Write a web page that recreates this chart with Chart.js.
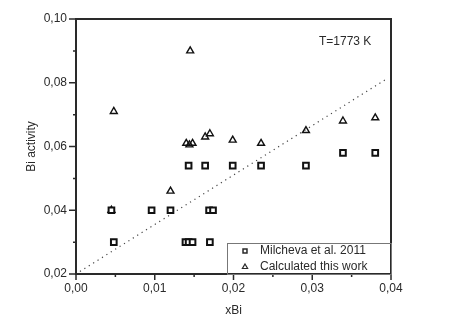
<!DOCTYPE html>
<html>
<head>
<meta charset="utf-8">
<script src="https://cdn.jsdelivr.net/npm/chart.js@4/dist/chart.umd.min.js"></script>
<style>
  body { margin: 0; background: #fff; }
  #wrap { width: 454px; height: 318px; }
</style>
</head>
<body>
<div id="wrap"><canvas id="chart" width="454" height="318"></canvas></div>
<script>
// Milcheva et al. 2011 (squares)
const milchevaX = [0.0045, 0.0048, 0.0096, 0.0120, 0.0139, 0.0143, 0.0148, 0.0143, 0.0164, 0.0170, 0.0169, 0.0174, 0.0199, 0.0235, 0.0292, 0.0339, 0.0380];
const milchevaY = [0.040, 0.030, 0.040, 0.040, 0.030, 0.030, 0.030, 0.054, 0.054, 0.030, 0.040, 0.040, 0.054, 0.054, 0.054, 0.058, 0.058];

// Calculated this work (triangles)
const calcX = [0.0045, 0.0048, 0.0120, 0.0140, 0.0144, 0.0148, 0.0145, 0.0164, 0.0170, 0.0199, 0.0235, 0.0292, 0.0339, 0.0380];
const calcY = [0.040, 0.071, 0.046, 0.061, 0.0605, 0.061, 0.090, 0.063, 0.064, 0.062, 0.061, 0.065, 0.068, 0.069];

// dotted reference line
const lineX = [0.0005, 0.0395];
const lineY = [0.0208, 0.0813];

const xTicks = [0, 0.01, 0.02, 0.03, 0.04];
const yTicks = [0.02, 0.04, 0.06, 0.08, 0.10];
const xMinorTicks = [0.005, 0.015, 0.025, 0.035];
const yMinorTicks = [0.03, 0.05, 0.07, 0.09];

const legendLabels = ['Milcheva et al. 2011', 'Calculated this work'];
const noteText = 'T=1773 K';

const FONT = 'Arial, "Liberation Sans", sans-serif';
const INK = '#2a2a2a';

function toPoints(xs, ys) {
    return xs.map((x, i) => ({ x: x, y: ys[i] }));
}

function fmt(v) {
    return v.toFixed(2).replace('.', ',');
}

// frame, ticks, note and legend box
const decorPlugin = {
    id: 'decor',
    afterDraw(chart) {
        const ctx = chart.ctx;
        const a = chart.chartArea;
        const xs = chart.scales.x;
        const ys = chart.scales.y;
        ctx.save();
        ctx.strokeStyle = INK;
        ctx.lineWidth = 2;
        ctx.strokeRect(a.left, a.top, a.right - a.left, a.bottom - a.top);

        // ticks outward
        ctx.lineWidth = 1.5;
        ctx.beginPath();
        xTicks.forEach(v => { const p = xs.getPixelForValue(v); ctx.moveTo(p, a.bottom); ctx.lineTo(p, a.bottom + 6); });
        xMinorTicks.forEach(v => { const p = xs.getPixelForValue(v); ctx.moveTo(p, a.bottom); ctx.lineTo(p, a.bottom + 3); });
        yTicks.forEach(v => { const p = ys.getPixelForValue(v); ctx.moveTo(a.left, p); ctx.lineTo(a.left - 7, p); });
        yMinorTicks.forEach(v => { const p = ys.getPixelForValue(v); ctx.moveTo(a.left, p); ctx.lineTo(a.left - 3, p); });
        ctx.stroke();

        // note
        ctx.fillStyle = INK;
        ctx.font = '12px ' + FONT;
        ctx.textBaseline = 'middle';
        ctx.textAlign = 'left';
        ctx.fillText(noteText, a.right - 72, a.top + 23);

        // legend
        const bx = 227, by = 243;
        ctx.strokeStyle = '#777';
        ctx.lineWidth = 1;
        ctx.strokeRect(bx + 0.5, by + 0.5, a.right - bx, a.bottom - by);
        chart.data.datasets.slice(0, 2).forEach((ds, i) => {
            const yy = by + 8 + i * 16;
            ctx.fillStyle = '#fff';
            ctx.strokeStyle = INK;
            ctx.lineWidth = i === 0 ? 1.5 : 1.2;
            Chart.helpers.drawPoint(ctx, {
                pointStyle: ds.pointStyle,
                radius: i === 0 ? 2.8 : 3,
                borderWidth: i === 0 ? 1.5 : 1.2
            }, bx + 18, yy);
            ctx.fillStyle = INK;
            ctx.fillText(ds.label, bx + 33, yy);
        });
        ctx.restore();
    }
};

new Chart(document.getElementById('chart'), {
    type: 'scatter',
    data: {
        datasets: [
            {
                label: legendLabels[0],
                data: toPoints(milchevaX, milchevaY),
                pointStyle: 'rect',
                pointRadius: 4,
                borderWidth: 2,
                borderColor: '#111',
                backgroundColor: '#fff'
            },
            {
                label: legendLabels[1],
                data: toPoints(calcX, calcY),
                pointStyle: 'triangle',
                pointRadius: 4,
                borderWidth: 1.4,
                borderColor: '#111',
                backgroundColor: 'rgba(255,255,255,0)'
            },
            {
                type: 'line',
                label: 'ref',
                data: toPoints(lineX, lineY),
                borderColor: '#444',
                borderWidth: 1.2,
                borderDash: [1.2, 4],
                pointRadius: 0,
                fill: false
            }
        ]
    },
    options: {
        responsive: false,
        animation: false,
        layout: { padding: { left: 20, top: 19, right: 63, bottom: 0 } },
        plugins: {
            legend: { display: false },
            tooltip: { enabled: false }
        },
        scales: {
            x: {
                type: 'linear',
                min: 0,
                max: 0.04,
                afterBuildTicks(scale) { scale.ticks = xTicks.map(v => ({ value: v })); },
                afterFit(scale) { scale.height = 44; },
                grid: { display: false, drawTicks: false },
                border: { display: false },
                ticks: {
                    padding: 7,
                    color: INK,
                    font: { family: FONT, size: 12 },
                    callback: v => fmt(v)
                },
                title: {
                    display: true,
                    text: 'xBi',
                    color: INK,
                    font: { family: FONT, size: 12 },
                    padding: { top: 0, bottom: 0 }
                }
            },
            y: {
                type: 'linear',
                min: 0.02,
                max: 0.10,
                afterBuildTicks(scale) { scale.ticks = yTicks.map(v => ({ value: v })); },
                afterFit(scale) { scale.width = 56; },
                grid: { display: false, drawTicks: false },
                border: { display: false },
                ticks: {
                    padding: 9,
                    color: INK,
                    font: { family: FONT, size: 12 },
                    callback: v => fmt(v)
                },
                title: {
                    display: true,
                    text: 'Bi activity',
                    color: INK,
                    font: { family: FONT, size: 12 },
                    padding: { top: 4, bottom: 4 }
                }
            }
        }
    },
    plugins: [decorPlugin]
});
</script>
</body>
</html>
